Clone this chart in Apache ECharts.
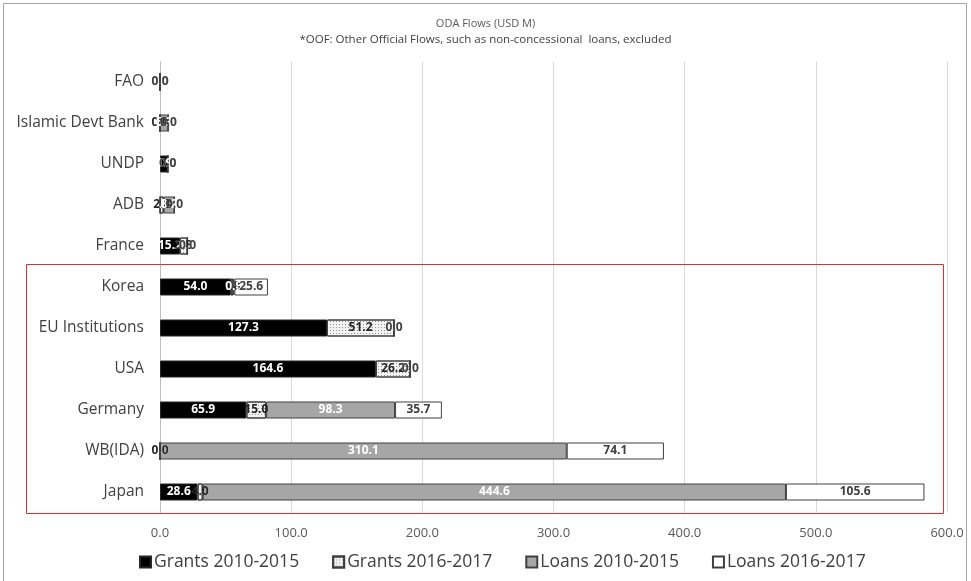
<!DOCTYPE html>
<html><head><meta charset="utf-8">
<script src="https://cdn.jsdelivr.net/npm/echarts@6/dist/echarts.min.js"></script>
<style>html,body{margin:0;padding:0;background:#fff}#c{width:971px;height:581px}</style>
</head><body><div id="c"></div>
<script>
const categories = ['FAO','Islamic Devt Bank','UNDP','ADB','France','Korea','EU Institutions','USA','Germany','WB(IDA)','Japan'];
const grants1015 = [0.0, 0.0, 5.9, 0.0, 15.2, 54.0, 127.3, 164.6, 65.9, 0.0, 28.6];
const grants1617 = [0.0, 0.0, 0.0, 2.8, 5.8, 1.8, 51.2, 26.2, 15.0, 0.0, 4.0];
const loans1015  = [0.0, 6.3, 0.0, 8.2, 0.0, 0.9, 0.0, 0.0, 98.3, 310.1, 444.6];
const loans1617  = [0.0, 0.0, 0.0, 0.0, 0.0, 25.6, 0.0, 0.0, 35.7, 74.1, 105.6];
const xTicks = [0, 100, 200, 300, 400, 500, 600];

const font = '"Open Sans", "Noto Sans", sans-serif';
const chart = echarts.init(document.getElementById('c'), null, {renderer:'canvas'});
function lbl(color){
  return {show:true, position:'inside', color:color, fontWeight:'bold', fontSize:12, fontFamily:font,
    formatter:p=>Number(p.value).toFixed(1)};
}
const bw = 17;
chart.setOption({
  backgroundColor:'#fff',
  animation:false,
  title:{text:'ODA Flows (USD M)', subtext:'*OOF: Other Official Flows, such as non-concessional  loans, excluded',
    left:'center', top:13, itemGap:5,
    textStyle:{fontSize:11, fontWeight:'normal', color:'#595959', fontFamily:font},
    subtextStyle:{fontSize:11.5, color:'#404040', fontFamily:font}},
  grid:{left:160, right:24, top:61.5, bottom:68.5},
  legend:{bottom:5, left:134, icon:'rect', itemWidth:11, itemHeight:11, itemGap:33,
    textStyle:{fontSize:17.5, color:'#404040', fontFamily:font, padding:[0,0,0,-2]}},
  xAxis:{type:'value', min:xTicks[0], max:xTicks[xTicks.length-1], interval:100,
    axisLine:{show:false}, axisTick:{show:false},
    axisLabel:{formatter:v=>v.toFixed(1), color:'#595959', fontSize:13, fontFamily:font, margin:14},
    splitLine:{lineStyle:{color:'#d9d9d9'}}},
  yAxis:{type:'category', data:categories, inverse:true,
    axisLine:{lineStyle:{color:'#bfbfbf'}}, axisTick:{show:false},
    axisLabel:{color:'#404040', fontSize:15.5, fontFamily:font, margin:16}},
  series:[
    {name:'Grants 2010-2015', type:'bar', stack:'a', barWidth:bw, data:grants1015,
      itemStyle:{color:'#000', borderColor:'#262626', borderWidth:1}, label:lbl('#fff')},
    {name:'Grants 2016-2017', type:'bar', stack:'a', barWidth:bw, data:grants1617,
      itemStyle:{color:'#f2f2f2', borderColor:'#404040', borderWidth:1,
        decal:{symbol:'rect', symbolSize:1, color:'rgba(0,0,0,0.4)', dashArrayX:[[1,2]], dashArrayY:[1,2]}},
      label:lbl('#262626')},
    {name:'Loans 2010-2015', type:'bar', stack:'a', barWidth:bw, data:loans1015,
      itemStyle:{color:'#a6a6a6', borderColor:'#404040', borderWidth:1}, label:lbl('#fff')},
    {name:'Loans 2016-2017', type:'bar', stack:'a', barWidth:bw, data:loans1617,
      itemStyle:{color:'#fff', borderColor:'#404040', borderWidth:1}, label:lbl('#404040')}
  ],
  graphic:[
    {type:'rect', shape:{x:3.5, y:3.5, width:963, height:600}, style:{fill:'none', stroke:'#a6a6a6', lineWidth:1}, silent:true},
    {type:'rect', shape:{x:26.5, y:264.5, width:917, height:249}, style:{fill:'none', stroke:'#e03030', lineWidth:1}, silent:true, z:100}
  ]
});
</script></body></html>
